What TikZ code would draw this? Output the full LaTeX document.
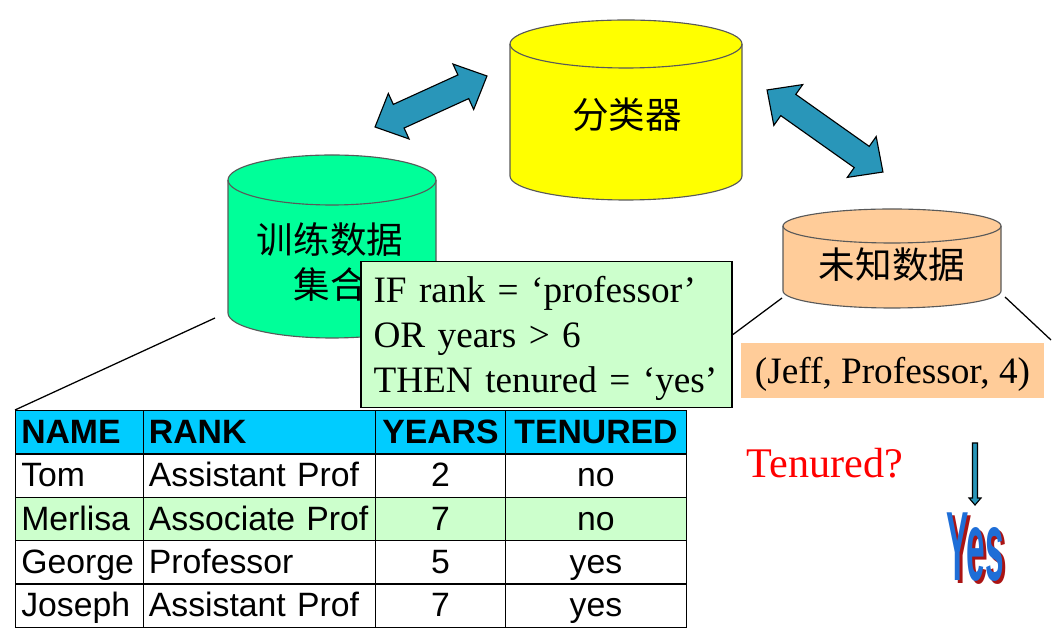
\documentclass[tikz,border=0pt]{standalone}
\usepackage{fontspec}
\setmainfont{Liberation Serif}
\setsansfont{Liberation Sans}
\newfontfamily\cjk{Noto Sans CJK SC}
\usetikzlibrary{matrix,positioning,calc}
\definecolor{cYellow}{RGB}{255,255,0}
\definecolor{cSpring}{RGB}{0,255,153}
\definecolor{cPeach}{RGB}{255,204,153}
\definecolor{cMint}{RGB}{204,255,204}
\definecolor{cCyan}{RGB}{0,204,255}
\definecolor{cTeal}{RGB}{41,150,185}
\definecolor{cWordBlue}{RGB}{30,110,215}
\definecolor{cShadow}{RGB}{170,20,20}
\tikzset{
  cylbody/.style={draw=black!65,line width=0.8pt},
  cjklabel/.style={font=\cjk\fontsize{26pt}{32pt}\selectfont,align=center},
  rulebox/.style={rectangle,draw=black,line width=1.2pt,fill=cMint,
                  align=left,inner xsep=9pt,text width=246pt,
                  minimum height=104pt,
                  font=\fontsize{26.5pt}{32pt}\selectfont},
  jeffbox/.style={rectangle,fill=cPeach,minimum width=216pt,
                  minimum height=39pt,text height=24.3pt,text depth=5.8pt,
                  font=\fontsize{26.5pt}{32pt}\selectfont},
  tcell/.style={rectangle,draw=black,line width=0.9pt,
                minimum height=30.8pt,text height=19pt,text depth=3pt,
                inner xsep=4pt,inner ysep=0pt,
                font=\sffamily\fontsize{24pt}{28pt}\selectfont},
  guide/.style={draw=black,line width=0.9pt},
  fatarr/.style={fill=cTeal,draw=black,line width=0.8pt},
  yesart/.style={font=\sffamily\bfseries\fontsize{70pt}{70pt}\selectfont,
                 inner sep=0pt},
  pics/dbcyl/.style n args={4}{code={
    \filldraw[cylbody,fill=#4] (-#1,0) -- (-#1,-#3)
      arc[start angle=180,end angle=360,x radius=#1,y radius=#2]
      -- (#1,0) arc[start angle=0,end angle=180,x radius=#1,y radius=#2]
      -- cycle;
    \draw[cylbody] (-#1,0)
      arc[start angle=180,end angle=360,x radius=#1,y radius=#2];
  }},
  pics/dblarrow/.style={code={
    \path[fatarr] (-#1,0) -- (-#1+26,25) -- (-#1+26,13) -- (#1-26,13)
      -- (#1-26,25) -- (#1,0) -- (#1-26,-25) -- (#1-26,-13)
      -- (-#1+26,-13) -- (-#1+26,-25) -- cycle;
  }},
  pics/droparr/.style={code={
    \path[fatarr] (-2.5,0) -- (2.5,0) -- (2.5,-#1+7) -- (6,-#1+7)
      -- (0,-#1) -- (-6,-#1+7) -- (-2.5,-#1+7) -- cycle;
  }}
}
\begin{document}
\begin{tikzpicture}[x=0.025cm,y=0.025cm]
  \useasboundingbox (0,0) rectangle (1057,636);

  % the three data stores
  \pic at (626,592) {dbcyl={116}{24}{132}{cYellow}};
  \pic at (332,456) {dbcyl={104}{25}{133}{cSpring}};
  \pic at (892,410) {dbcyl={109}{17}{65}{cPeach}};

  \node[cjklabel] (clf) at (627,521) {分类器};
  \node[cjklabel] (train) at (330,374) {训练数据\\集合};
  \node[cjklabel] (unk) at (892,371) {未知数据};

  % big two-way arrows
  \pic[rotate=24.5] at (431,534.5) {dblarrow=61.5};
  \pic[rotate=-35.3] at (825,505) {dblarrow=71};

  % table of training samples
  \matrix[matrix of nodes,anchor=north west,inner sep=0pt,outer sep=0pt,
          column sep=-0.9pt,row sep=-0.9pt,nodes={tcell},
          column 1/.style={nodes={text width=82.8pt,align=left}},
          column 2/.style={nodes={text width=157.2pt,align=left}},
          column 3/.style={nodes={text width=84.2pt,align=center}},
          column 4/.style={nodes={inner xsep=3pt,text width=123pt,
                                  align=center}},
          row 1/.style={nodes={fill=cCyan,
                  font=\sffamily\bfseries\fontsize{24pt}{28pt}\selectfont}},
          row 3/.style={nodes={fill=cMint}}] (tbl) at (15,226) {
    NAME    & RANK            & YEARS & TENURED \\
    Tom     & Assistant Prof  & 2     & no      \\
    Merlisa & Associate Prof  & 7     & no      \\
    George  & Professor       & 5     & yes     \\
    Joseph  & Assistant Prof  & 7     & yes     \\
  };

  % learned rule
  \node[rulebox] (rule) at (546.5,301.5)
    {\rule{0pt}{24.5pt}IF rank = ‘professor’\\OR years > 6\\THEN tenured = ‘yes’};

  % unseen sample
  \node[jeffbox] (jeff) at (892.5,265.5) {(Jeff, Professor, 4)};

  \coordinate (trainfoot) at (215,318);
  \coordinate (unkleft) at (782,338);
  \coordinate (unkright) at (1005,339);
  \coordinate (farright) at (1051,296);
  \draw[guide] (trainfoot) -- (tbl.north west);
  \draw[guide] (unkleft) -- (rule.east);
  \draw[guide] (unkright) -- (farright);

  \node[text=red,font=\fontsize{30pt}{36pt}\selectfont] (ask)
    at (825,173) {Tenured?};

  % answer
  \node[yesart,text=cShadow] (yesshadow) at (978,86)
    {\scalebox{0.34}[1]{Yes}};
  \node[yesart,text=cWordBlue] (yes) at (975,88.5)
    {\scalebox{0.34}[1]{Yes}};
  \coordinate (drop) at (975,193);
  \pic at (drop) {droparr=62};

\end{tikzpicture}
\end{document}
